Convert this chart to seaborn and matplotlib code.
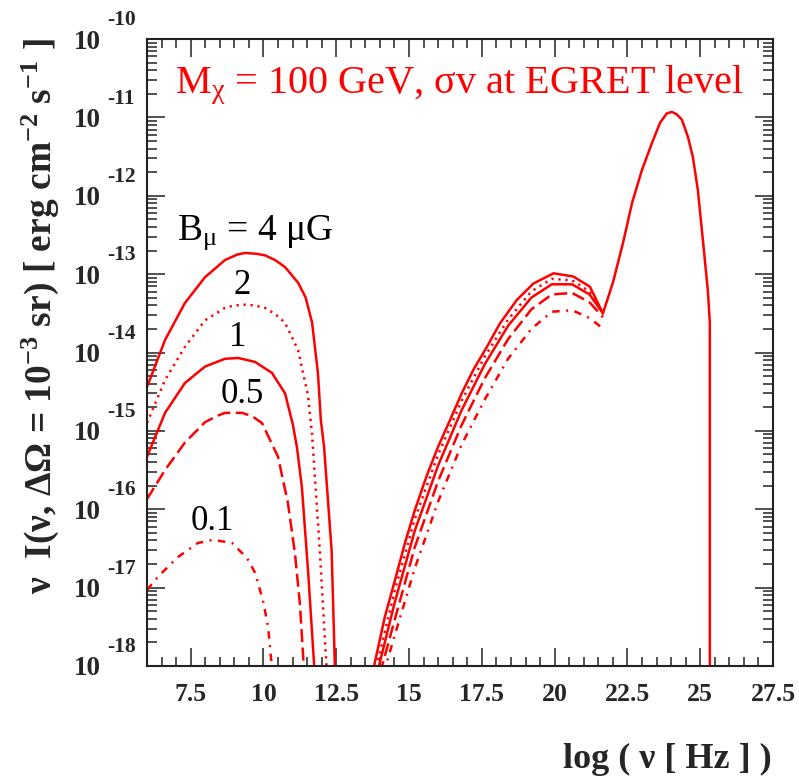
import numpy as np
import pandas as pd
import matplotlib
matplotlib.use("Agg")
import matplotlib.pyplot as plt
import matplotlib.ticker as mticker
import seaborn as sns

# ---------------- data (log10 of nu*I) ----------------
B_labels = ["4", "2", "1", "0.5", "0.1"]

# synchrotron branch
sync_x_B4 = [6.0, 6.62, 7.30, 7.99, 8.68, 9.10, 9.37, 9.75, 10.05, 10.40, 10.74, 11.19, 11.45, 11.67, 11.87, 11.97, 12.08, 12.34, 12.46]
sync_y_B4 = [-14.44, -13.84, -13.37, -13.04, -12.82, -12.75, -12.73, -12.74, -12.76, -12.82, -12.91, -13.11, -13.30, -13.62, -14.26, -14.86, -15.20, -16.52, -18.1]
sync_x_B2 = [6.0, 6.62, 7.30, 7.99, 8.68, 9.00, 9.37, 9.70, 10.05, 10.40, 10.74, 11.19, 11.53, 11.67, 11.94, 12.18]
sync_y_B2 = [-14.90, -14.35, -13.93, -13.59, -13.43, -13.40, -13.39, -13.40, -13.43, -13.51, -13.62, -13.97, -14.55, -15.05, -16.56, -18.1]
sync_x_B1 = [6.0, 6.62, 7.30, 7.99, 8.68, 9.13, 9.71, 10.29, 10.74, 11.01, 11.15, 11.32, 11.53, 11.76]
sync_y_B1 = [-15.33, -14.77, -14.39, -14.18, -14.08, -14.07, -14.12, -14.26, -14.52, -14.92, -15.21, -15.72, -16.78, -18.1]
sync_x_B05 = [6.0, 6.62, 7.30, 7.99, 8.40, 8.68, 9.26, 9.60, 9.95, 10.50, 10.84, 11.08, 11.25, 11.40]
sync_y_B05 = [-15.87, -15.50, -15.15, -14.89, -14.81, -14.77, -14.77, -14.81, -14.90, -15.33, -15.92, -16.56, -17.20, -18.1]
sync_x_B01 = [6.0, 6.38, 7.06, 7.75, 8.27, 8.92, 9.43, 9.71, 9.98, 10.16, 10.31]
sync_y_B01 = [-17.03, -16.86, -16.61, -16.43, -16.39, -16.43, -16.62, -16.81, -17.16, -17.50, -18.1]

# inverse-Compton branch
ic_x_B4 = [13.74, 14.17, 14.52, 14.86, 15.20, 15.60, 16.00, 16.41, 16.81, 17.21, 17.67, 18.12, 18.70, 19.27, 19.96, 20.64, 21.21, 21.66]
ic_y_B4 = [-18.1, -17.37, -16.90, -16.43, -16.01, -15.58, -15.20, -14.86, -14.52, -14.22, -13.93, -13.63, -13.33, -13.12, -12.99, -13.03, -13.16, -13.50]
ic_x_B2 = [13.82, 14.5, 15.2, 16.0, 16.8, 17.6, 18.4, 19.2, 19.9, 20.6, 21.2, 21.66]
ic_y_B2 = [-18.1, -17.05, -16.12, -15.30, -14.62, -14.05, -13.58, -13.22, -13.06, -13.08, -13.22, -13.50]
ic_x_B1 = [13.90, 14.5, 15.2, 16.0, 16.8, 17.6, 18.4, 19.2, 19.9, 20.6, 21.2, 21.66]
ic_y_B1 = [-18.1, -17.20, -16.27, -15.44, -14.74, -14.15, -13.66, -13.30, -13.13, -13.13, -13.26, -13.50]
ic_x_B05 = [14.00, 14.5, 15.2, 16.0, 16.8, 17.6, 18.4, 19.2, 19.9, 20.6, 21.2, 21.66]
ic_y_B05 = [-18.1, -17.42, -16.48, -15.64, -14.93, -14.33, -13.83, -13.45, -13.26, -13.24, -13.36, -13.55]
ic_x_B01 = [14.12, 14.5, 15.2, 16.0, 16.8, 17.6, 18.4, 19.2, 19.9, 20.6, 21.2, 21.61]
ic_y_B01 = [-18.1, -17.62, -16.75, -15.90, -15.18, -14.60, -14.08, -13.70, -13.48, -13.46, -13.56, -13.68]

# pi0 gamma-ray bump (common to all curves)
pi_x = [21.66, 22.00, 22.35, 22.66, 23.00, 23.34, 23.62, 23.85, 24.03, 24.19, 24.37, 24.58, 24.75, 24.92, 25.09, 25.26, 25.33, 25.33]
pi_y = [-13.50, -13.11, -12.60, -12.09, -11.67, -11.33, -11.07, -10.95, -10.93, -10.96, -11.03, -11.25, -11.51, -11.93, -12.56, -13.20, -13.62, -18.5]

x_ticks = [7.5, 10, 12.5, 15, 17.5, 20, 22.5, 25, 27.5]
y_decades = [-18, -17, -16, -15, -14, -13, -12, -11, -10]

# ---------------- style ----------------
sns.set_style("ticks")
plt.rcParams["font.family"] = ["Liberation Serif", "DejaVu Serif"]
plt.rcParams["mathtext.fontset"] = "custom"
plt.rcParams["mathtext.rm"] = "Liberation Serif"
plt.rcParams["mathtext.bf"] = "Liberation Serif:bold"
plt.rcParams["mathtext.it"] = "Liberation Serif:italic"

RED = "#ff0000"
LW = 1.8
styles = {
    "4": "-",
    "2": (0, (0.9, 1.9)),
    "1": "-",
    "0.5": (0, (5.2, 2.2)),
    "0.1": (0, (3.0, 2.6, 0.8, 2.6)),
}
sync = {"4": (sync_x_B4, sync_y_B4), "2": (sync_x_B2, sync_y_B2), "1": (sync_x_B1, sync_y_B1),
        "0.5": (sync_x_B05, sync_y_B05), "0.1": (sync_x_B01, sync_y_B01)}
ic = {"4": (ic_x_B4, ic_y_B4), "2": (ic_x_B2, ic_y_B2), "1": (ic_x_B1, ic_y_B1),
      "0.5": (ic_x_B05, ic_y_B05), "0.1": (ic_x_B01, ic_y_B01)}

fig = plt.figure(figsize=(7.99, 7.78), dpi=100)
ax = fig.add_axes([0.18398, 0.14396, 0.78348, 0.80591])

def draw(xs, ys, ls):
    df = pd.DataFrame({"x": xs, "flux": 10.0 ** np.asarray(ys)})
    sns.lineplot(data=df, x="x", y="flux", sort=False, estimator=None, ax=ax,
                 color=RED, linestyle=ls, linewidth=LW)

for b in B_labels[::-1]:
    draw(*sync[b], styles[b])
    draw(*ic[b], styles[b])
draw(pi_x, pi_y, "-")

ax.set_yscale("log")
ax.set_xlim(6, 27.5)
ax.set_ylim(1e-18, 1e-10)
ax.set_xlabel("")
ax.set_ylabel("")

# ticks
ax.xaxis.set_major_locator(mticker.FixedLocator(x_ticks))
ax.xaxis.set_minor_locator(mticker.MultipleLocator(0.5))
ax.xaxis.set_major_formatter(mticker.FuncFormatter(lambda v, p: f"{v:g}"))
ax.yaxis.set_major_locator(mticker.FixedLocator([10.0 ** k for k in y_decades]))
ax.yaxis.set_minor_locator(mticker.LogLocator(base=10, subs=np.arange(2, 10), numticks=100))
ax.yaxis.set_minor_formatter(mticker.NullFormatter())
ax.set_yticklabels(["10"] * len(y_decades))

ax.tick_params(which="both", direction="in", top=True, right=True, color="#222222", width=1.1)
ax.tick_params(axis="x", which="major", length=13, labelsize=18.5, pad=12)
ax.tick_params(axis="x", which="minor", length=6.5)
ax.tick_params(axis="y", which="major", length=13, labelsize=19.5, pad=33)
ax.tick_params(axis="y", which="minor", length=7)
for lab in ax.get_xticklabels() + ax.get_yticklabels():
    lab.set_fontweight("bold")
for sp in ax.spines.values():
    sp.set_linewidth(1.5)
    sp.set_color("#222222")

# exponents of the y tick labels (ROOT style)
for k in y_decades:
    ax.annotate(f"{k}", xy=(0, 10.0 ** k), xycoords=("axes fraction", "data"),
                xytext=(-28.5, 13.5), textcoords="offset points", ha="left", va="center",
                fontsize=15.5, fontweight="bold", annotation_clip=False)

# in-plot texts
ax.text(6.97, 10 ** -10.69, r"M$_{\mathrm{χ}}$ = 100 GeV, σv at EGRET level",
        color=RED, fontsize=29, ha="left", va="baseline")
ax.text(7.03, 10 ** -12.56, r"B$_{\mathrm{μ}}$ = 4 μG", color="black", fontsize=27,
        ha="left", va="baseline")
lab_pos = {"2": (9.26, -13.14), "1": (9.12, -13.81), "0.5": (9.26, -14.54), "0.1": (8.23, -16.16)}
for b, (lx, ly) in lab_pos.items():
    ax.text(lx, 10 ** ly, b, fontsize=25, ha="center", va="center", color="black")

# axis titles
fig.text(772 / 799, 2 / 778, "log ( ν [ Hz ] )", ha="right", va="bottom",
         fontsize=26, fontweight="bold")
fig.text(40 / 799, 1 - 38 / 778,
         r"ν  I(ν, ΔΩ = 10$^{\mathbf{-3}}$ sr) [ erg cm$^{\mathbf{-2}}$ s$^{\mathbf{-1}}$ ]",
         rotation=90, ha="center", va="top", fontsize=27, fontweight="bold")

fig.savefig("out.png", dpi=100)
